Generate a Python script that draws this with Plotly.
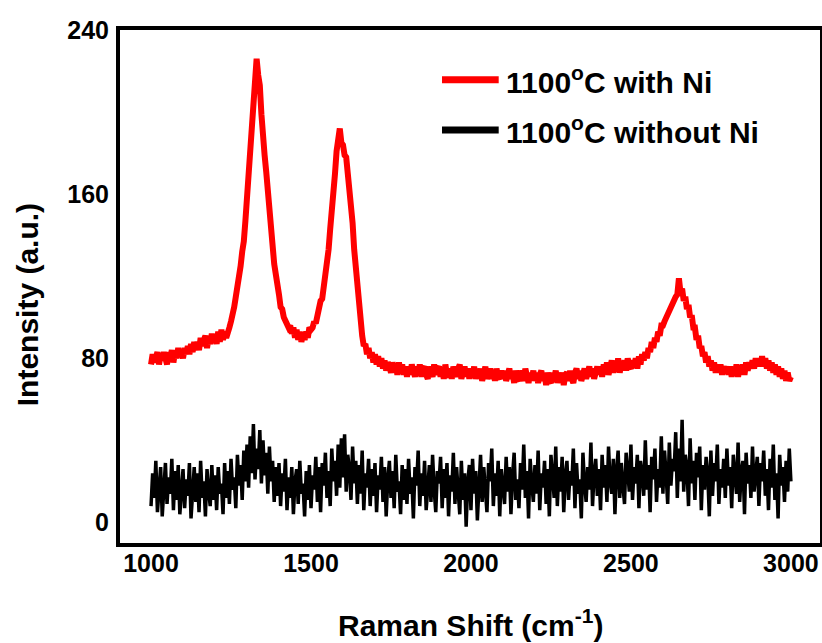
import plotly.graph_objects as go

# ---------------- data ----------------
block_starts = [1000, 1100, 1200, 1300, 1400, 1500, 1600, 1700, 1800, 1900,
                2000, 2100, 2200, 2300, 2400, 2500, 2600, 2700, 2800, 2900]
step = 5  # cm-1 between samples inside a block

x_tick_vals = [1000, 1500, 2000, 2500, 3000]
y_tick_vals = [0, 80, 160, 240]

series_names = ["1100<sup>o</sup>C with Ni", "1100<sup>o</sup>C without Ni"]

# 1100 C with Ni (red)
red_blocks = [
    [77, 82, 78, 81, 83, 77, 82, 79, 83, 80, 77, 83, 80, 84, 78, 83, 80, 85, 81, 84],
    [80, 85, 82, 86, 82, 87, 83, 88, 84, 88, 84, 90, 86, 89, 91, 85, 90, 87, 92, 88],
    [91, 87, 93, 88, 94, 89, 93, 90, 94, 95, 98, 101, 105, 110, 114, 120, 125, 132, 137, 147],
    [158, 169, 184, 194, 208, 219, 226, 218, 213, 199, 192, 179, 171, 161, 153, 142, 136, 126, 121, 113],
    [111, 105, 104, 100, 98, 97, 95, 96, 92, 95, 90, 94, 89, 93, 88, 92, 89, 93, 90, 95],
    [94, 95, 98, 97, 102, 103, 108, 109, 115, 118, 127, 133, 143, 150, 161, 170, 181, 187, 192, 185],
    [184, 179, 178, 170, 163, 152, 146, 133, 124, 112, 104, 94, 91, 86, 87, 82, 85, 80, 83, 78],
    [82, 77, 81, 76, 80, 75, 79, 74, 78, 76, 73, 78, 74, 77, 72, 78, 73, 77, 72, 76],
    [71, 76, 72, 77, 74, 71, 76, 72, 77, 71, 75, 76, 72, 70, 76, 74, 71, 77, 72, 75],
    [76, 71, 75, 70, 77, 72, 71, 75, 70, 76, 73, 71, 75, 77, 70, 73, 76, 71, 75, 70],
    [75, 71, 76, 70, 74, 71, 75, 69, 73, 76, 70, 72, 75, 70, 74, 69, 75, 71, 70, 74],
    [70, 74, 69, 72, 75, 70, 73, 68, 74, 70, 69, 74, 72, 69, 75, 70, 68, 73, 70, 74],
    [69, 73, 68, 72, 74, 69, 72, 67, 73, 69, 68, 73, 70, 74, 68, 72, 69, 73, 67, 72],
    [73, 69, 74, 70, 68, 73, 75, 70, 74, 69, 73, 75, 70, 74, 76, 71, 75, 70, 74, 76],
    [72, 76, 71, 77, 73, 78, 72, 76, 79, 73, 77, 74, 80, 73, 78, 75, 79, 74, 80, 76],
    [75, 79, 76, 80, 75, 81, 77, 82, 79, 83, 80, 85, 83, 88, 85, 90, 88, 93, 91, 96],
    [96, 98, 100, 102, 104, 106, 108, 109, 110, 111, 119, 112, 114, 108, 110, 104, 106, 100, 101, 95],
    [95, 89, 91, 85, 86, 81, 83, 78, 81, 76, 79, 74, 78, 73, 77, 73, 77, 72, 76, 73],
    [76, 72, 76, 71, 75, 72, 77, 71, 76, 73, 77, 72, 78, 74, 78, 75, 79, 75, 80, 76],
    [80, 76, 81, 76, 80, 75, 79, 74, 78, 73, 77, 72, 76, 71, 75, 70, 74, 69, 73, 69, 71],
]

# 1100 C without Ni (black)
black_blocks = [
    [8, 24, 12, 30, 5, 20, 27, 3, 18, 29, 9, 22, 14, 31, 6, 25, 11, 28, 4, 19],
    [26, 7, 21, 13, 29, 2, 17, 27, 10, 24, 5, 30, 12, 20, 3, 26, 15, 8, 28, 11],
    [23, 6, 27, 14, 19, 4, 29, 12, 25, 9, 31, 16, 22, 7, 33, 18, 28, 11, 35, 20],
    [38, 17, 42, 24, 48, 21, 36, 26, 45, 19, 40, 23, 34, 14, 37, 20, 30, 10, 27, 13],
    [29, 8, 24, 15, 31, 6, 22, 12, 27, 4, 20, 26, 9, 30, 14, 19, 3, 25, 11, 28],
    [7, 23, 16, 32, 10, 27, 5, 29, 18, 34, 12, 25, 8, 36, 20, 30, 13, 38, 17, 41],
    [22, 43, 15, 33, 26, 11, 37, 19, 30, 9, 28, 14, 35, 6, 24, 17, 31, 8, 26, 13],
    [29, 5, 23, 16, 32, 10, 27, 3, 21, 30, 12, 25, 7, 33, 15, 20, 4, 28, 11, 26],
    [9, 31, 14, 22, 2, 27, 18, 35, 8, 24, 13, 30, 6, 21, 28, 10, 33, 16, 5, 25],
    [19, 32, 7, 26, 12, 29, 3, 23, 15, 34, 9, 27, 17, 4, 30, 11, 24, -2, 20, 28],
    [6, 31, 14, 25, 1, 22, 33, 10, 27, 16, 5, 29, 20, 36, 8, 24, 13, 30, 3, 26],
    [18, 9, 32, 15, 27, 4, 23, 34, 11, 21, 7, 29, 16, 38, 12, 25, 2, 31, 19, 10],
    [28, 14, 35, 6, 24, 17, 30, 9, 26, 3, 33, 20, 12, 37, 8, 27, 15, 32, 5, 23],
    [30, 11, 25, 18, 36, 7, 29, 14, 21, 2, 34, 19, 10, 27, 16, 39, 8, 24, 31, 13],
    [26, 6, 33, 17, 28, 10, 37, 20, 14, 31, 4, 25, 35, 12, 29, 18, 9, 34, 22, 15],
    [38, 11, 27, 19, 33, 7, 30, 24, 13, 40, 16, 28, 5, 32, 21, 36, 10, 26, 17, 42],
    [14, 35, 23, 9, 39, 18, 31, 25, 44, 12, 36, 20, 50, 15, 33, 27, 8, 41, 19, 30],
    [11, 34, 22, 37, 6, 28, 16, 32, 24, 3, 35, 13, 29, 20, 38, 9, 26, 17, 31, 12],
    [36, 18, 27, 7, 33, 21, 14, 39, 10, 25, 30, 4, 34, 19, 28, 12, 37, 15, 23, 32],
    [8, 29, 20, 35, 13, 26, 6, 31, 17, 38, 11, 24, 2, 33, 18, 27, 10, 30, 15, 36, 20],
]


def expand(blocks):
    xs, ys = [], []
    for start, vals in zip(block_starts, blocks):
        for i, v in enumerate(vals):
            xs.append(start + step * i)
            ys.append(v)
    return xs, ys


x_red, y_red = expand(red_blocks)
x_black, y_black = expand(black_blocks)

FONT = "Liberation Sans, Arial, sans-serif"

fig = go.Figure()
fig.add_trace(go.Scatter(x=x_red, y=y_red, mode="lines", name=series_names[0],
                         line=dict(color="#ff0000", width=6), showlegend=False))
fig.add_trace(go.Scatter(x=x_black, y=y_black, mode="lines", name=series_names[1],
                         line=dict(color="#000000", width=3.5), showlegend=False))

axis_common = dict(showline=True, mirror=True, linewidth=4, linecolor="#000000",
                   showgrid=False, zeroline=False, ticks="", ticklen=0, automargin=False,
                   tickfont=dict(family=FONT, size=25, color="#000000", weight="bold"))

fig.update_layout(
    width=822, height=643,
    margin=dict(l=120, r=2, t=30, b=100),
    paper_bgcolor="white", plot_bgcolor="white",
    xaxis=dict(range=[903, 3091], tickvals=x_tick_vals, ticklabelstandoff=-5, **axis_common),
    yaxis=dict(range=[-10, 240], tickvals=y_tick_vals, ticklabelstandoff=2, **axis_common),
)

# axis titles
fig.add_annotation(text="<b>Raman Shift (cm<sup>-1</sup>)</b>", xref="paper", yref="paper",
                   x=0.5, y=-0.155, xanchor="center", yanchor="middle", showarrow=False,
                   font=dict(family=FONT, size=30, color="#000000"))
fig.add_annotation(text="<b>Intensity (a.u.)</b>", xref="paper", yref="paper",
                   x=-0.131, y=0.464, xanchor="center", yanchor="middle", textangle=-90,
                   showarrow=False, font=dict(family=FONT, size=30, color="#000000"))

# legend (drawn as lines + text)
legend_colors = ["#ff0000", "#000000"]
legend_y = [0.903, 0.805]
for name, col, ly in zip(series_names, legend_colors, legend_y):
    fig.add_shape(type="line", xref="paper", yref="paper", x0=0.46, x1=0.541, y0=ly, y1=ly,
                  line=dict(color=col, width=7))
    fig.add_annotation(text="<b>" + name + "</b>", xref="paper", yref="paper",
                       x=0.549, y=ly, xanchor="left", yanchor="middle", showarrow=False,
                       font=dict(family=FONT, size=30, color="#000000"))

fig.write_html("out.html",
               config={"displayModeBar": False},
               post_script="document.body.style.margin='0px';"
                           "document.body.style.overflow='hidden';")
